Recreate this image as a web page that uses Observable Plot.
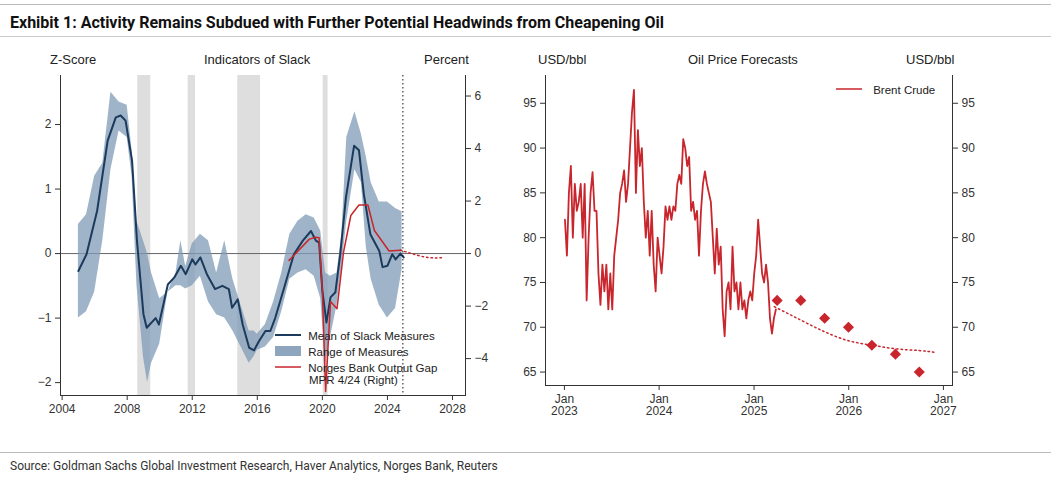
<!DOCTYPE html>
<html><head><meta charset="utf-8">
<script src="https://cdn.jsdelivr.net/npm/d3@7"></script>
<script src="https://cdn.jsdelivr.net/npm/@observablehq/plot@0.6"></script>
<style>
body{margin:0;background:#fff;font-family:"Liberation Sans",Arial,sans-serif;color:#222;width:1051px;height:478px;position:relative;overflow:hidden}
.abs{position:absolute}
.sub{font-size:13px;color:#222}
.leg{font-size:11.5px;color:#222;line-height:16px}
</style></head><body>
<div class="abs" style="left:0;top:4px;width:1051px;border-top:1px solid #bbb"></div>
<div class="abs" style="left:10px;top:13px;font-family:'Liberation Sans Narrow','Roboto',sans-serif;font-weight:bold;font-size:16px;color:#111">Exhibit 1: Activity Remains Subdued with Further Potential Headwinds from Cheapening Oil</div>
<div class="abs" style="left:0;top:36px;width:1051px;border-top:1px solid #ccc"></div>
<div class="abs sub" style="left:50px;top:52px">Z-Score</div>
<div class="abs sub" style="left:204px;top:52px">Indicators of Slack</div>
<div class="abs sub" style="left:424px;top:52px">Percent</div>
<div class="abs sub" style="left:538px;top:52px">USD/bbl</div>
<div class="abs sub" style="left:688px;top:52px">Oil Price Forecasts</div>
<div class="abs sub" style="left:906px;top:52px">USD/bbl</div>
<div id="c1" class="abs" style="left:0;top:45px"></div>
<div id="c2" class="abs" style="left:500px;top:45px"></div>
<div class="abs leg" style="left:275px;top:328px">
<div><svg width="30" height="10"><line x1="0" y1="5" x2="26" y2="5" stroke="#1b3a5c" stroke-width="2"/></svg> Mean of Slack Measures</div>
<div><svg width="30" height="10"><rect x="0" y="0" width="26" height="10" fill="#8ea6bd"/></svg> Range of Measures</div>
<div><svg width="30" height="10"><line x1="0" y1="5" x2="26" y2="5" stroke="#c8262c" stroke-width="1.5"/></svg> Norges Bank Output Gap</div>
<div style="margin-left:34px;margin-top:-4px">MPR 4/24 (Right)</div>
</div>
<div class="abs leg" style="left:836px;top:82px"><svg width="34" height="10"><line x1="0" y1="5" x2="26" y2="5" stroke="#c8262c" stroke-width="1.5"/></svg> Brent Crude</div>
<div class="abs" style="left:0;top:452px;width:1051px;border-top:1px solid #bbb"></div>
<div class="abs" style="left:10px;top:459px;font-family:'Liberation Sans Narrow','Roboto',sans-serif;font-size:12px;color:#333">Source: Goldman Sachs Global Investment Research, Haver Analytics, Norges Bank, Reuters</div>
<script>
// ---- Left chart data ----
const meanYear=[2005.0,2005.5,2006.15,2006.8,2007.3,2007.6,2007.9,2008.3,2008.6,2009.0,2009.2,2009.75,2009.95,2010.5,2010.9,2011.3,2011.6,2012.0,2012.2,2012.5,2012.9,2013.4,2013.85,2014.25,2014.45,2014.8,2015.1,2015.5,2015.8,2016.1,2016.5,2016.8,2017.1,2017.65,2018.25,2018.8,2019.3,2019.6,2019.8,2020.0,2020.25,2020.5,2020.8,2021.1,2021.45,2021.95,2022.25,2022.55,2022.95,2023.5,2023.7,2024.0,2024.3,2024.5,2024.8,2025.0];
const meanVal=[-0.27,-0.01,0.66,1.75,2.11,2.14,2.06,1.44,0.2,-0.94,-1.15,-1.0,-1.1,-0.48,-0.37,-0.19,-0.32,-0.09,-0.17,-0.06,-0.32,-0.55,-0.5,-0.55,-0.84,-0.71,-1.1,-1.46,-1.5,-1.36,-1.2,-1.2,-1.0,-0.53,-0.01,0.2,0.35,0.2,0.17,-0.58,-1.07,-0.68,-0.6,-0.01,0.87,1.67,1.6,0.92,0.3,0.04,-0.21,-0.19,-0.01,-0.09,0,-0.06];
const bandYear=[2005,2005.5,2006,2006.5,2007,2007.5,2008,2008.3,2008.6,2009,2009.25,2009.5,2010,2010.5,2011,2011.3,2011.6,2012,2012.5,2013,2013.5,2014,2014.5,2015,2015.5,2015.8,2016,2016.5,2017,2017.5,2018,2018.5,2019,2019.5,2019.9,2020.2,2020.5,2020.9,2021.2,2021.5,2022,2022.4,2022.7,2023,2023.5,2024,2024.5,2024.9];
const bandHi=[0.45,0.6,1.2,1.4,2.5,2.35,2.3,1.6,0.5,0.2,0.0,-0.3,-0.7,-0.6,-0.3,0.2,-0.2,0.15,0.3,0.2,-0.3,0.2,-0.4,-0.8,-1.2,-1.2,-1.25,-1.1,-0.75,-0.3,0.3,0.5,0.6,0.55,0.35,-0.3,-0.35,-0.3,0.3,1.8,2.2,1.85,1.5,1.1,0.8,0.8,0.7,0.65];
const bandLo=[-1.0,-0.9,-0.6,0.2,1.3,1.9,1.8,1.2,-0.5,-1.6,-2.0,-1.7,-1.4,-0.6,-0.5,-0.5,-0.55,-0.5,-0.35,-0.75,-0.95,-1.0,-1.2,-1.45,-1.7,-1.6,-1.5,-1.45,-1.3,-0.9,-0.4,-0.3,-0.25,-0.35,-0.7,-1.7,-1.3,-0.8,-0.2,0.5,1.3,1.1,0.1,-0.4,-0.8,-1.0,-0.85,-0.25];
const gapYear=[2017.95,2019.2,2019.6,2019.8,2020.0,2020.2,2020.5,2020.9,2021.3,2021.75,2022.25,2022.8,2023.2,2024.1,2024.8];
const gapVal=[-0.26,0.55,0.62,0.6,-1.45,-5.25,-1.83,-2.1,0.05,1.45,1.85,1.85,0.88,0.1,0.13];
const gapFcYear=[2024.8,2025.5,2026.5,2027.5];
const gapFcVal=[0.13,0.0,-0.15,-0.15];
const recStart=[2008.65,2011.75,2014.8,2020.05];
const recEnd=[2009.45,2012.2,2016.2,2020.35];
const xTicks1=[2004,2008,2012,2016,2020,2024,2028];
const zTicks=[-2,-1,0,1,2];
const pctTicks=[-4,-2,0,2,4,6];
const forecastStart=[2024.95];

// ---- Right chart data ----
const brent=[82,78,85,88, 80,86,83,84, 86,80,86,73, 80,85,87.3,83, 83,76,72.5,77, 74,77,72,76, 72,78,80,82, 85,86,87.5,84, 86,90,94,96.5, 85,92,88,90, 84,80,83,78, 83,77,74,80,
 78,76,79,83.5, 82,83.5,82,83.5, 83,86,87,86, 91,90,88,89, 83,84,82,83, 78,83,86,87.4, 86,85,84,80, 76,81,77,79, 72,69,74,75, 72,79,74,75, 72,75,72,73, 71,73,74,73,
 76,78,82,79, 76,75,77,75, 71,69.3,71,72];
const fcDates=["2025-03-20","2025-06-30","2025-09-30","2025-12-31","2026-03-31","2026-06-30","2026-09-30","2026-11-30"];
const fcCurve=[72.3,70.8,69.5,68.5,68.0,67.6,67.4,67.2];
const qDates=["2025-03-31","2025-06-30","2025-09-30","2025-12-31","2026-03-31","2026-06-30","2026-09-30"];
const qForecast=[73,73,71,70,68,67,65];
const xTicks2=["2023-01-01","2024-01-01","2025-01-01","2026-01-01","2027-01-01"];
const yTicks2=[65,70,75,80,85,90,95];

const K=2.457;
const red="#c8262c", navy="#1b3a5c", tc="#333";
const fmt=d=>String(d).replace("-","−");
const mean=meanYear.map((x,i)=>({x,y:meanVal[i]}));
const band=bandYear.map((x,i)=>({x,lo:bandLo[i],hi:bandHi[i]}));
const gap=gapYear.map((x,i)=>({x,y:gapVal[i]/K}));
const gapFc=gapFcYear.map((x,i)=>({x,y:gapFcVal[i]/K}));
const rec=recStart.map((s,i)=>({s,e:recEnd[i]}));

const p1=Plot.plot({
  width:500,height:380,marginLeft:60,marginRight:35,marginTop:30,marginBottom:30,
  style:{fontFamily:"Liberation Sans, Arial",fontSize:"12px",color:tc},
  x:{domain:[2003.9,2028.8]},
  y:{domain:[-2.2,2.76]},
  marks:[
    Plot.rectX(rec,{x1:"s",x2:"e",y1:-2.2,y2:2.76,fill:"#dedede"}),
    Plot.ruleY([0],{stroke:"#666",strokeWidth:1}),
    Plot.areaY(band,{x:"x",y1:"lo",y2:"hi",fill:"#7f9bb5",fillOpacity:0.75}),
    Plot.line(mean,{x:"x",y:"y",stroke:navy,strokeWidth:2}),
    Plot.line(gap,{x:"x",y:"y",stroke:red,strokeWidth:1.5}),
    Plot.line(gapFc,{x:"x",y:"y",stroke:red,strokeWidth:1.5,strokeDasharray:"1.5,3",curve:"natural"}),
    Plot.ruleX(forecastStart,{stroke:"#111",strokeDasharray:"1.5,2.5"}),
    Plot.frame({anchor:"left",stroke:"#333"}),
    Plot.frame({anchor:"right",stroke:"#333"}),
    Plot.frame({anchor:"bottom",stroke:"#333"}),
    Plot.axisX(xTicks1,{tickFormat:d=>String(d),tickSize:5,label:null,fontSize:12}),
    Plot.axisY(zTicks,{anchor:"left",tickFormat:fmt,tickSize:5,label:null,fontSize:12}),
    Plot.axisY(pctTicks.map(p=>p/K),{anchor:"right",tickFormat:d=>fmt(Math.round(d*K)),tickSize:5,label:null,fontSize:12})
  ]
});
document.getElementById("c1").appendChild(p1);

const t0=new Date(2023,0,3);
const brentData=brent.map((v,i)=>({d:new Date(t0.getTime()+i*7.6*864e5),v}));
const fcC=fcDates.map((d,i)=>({d:new Date(d),v:fcCurve[i]}));
const qF=qDates.map((d,i)=>({d:new Date(d),v:qForecast[i]}));
const p2=Plot.plot({
  width:500,height:380,marginLeft:45,marginRight:48,marginTop:30,marginBottom:40,
  style:{fontFamily:"Liberation Sans, Arial",fontSize:"12px",color:tc},
  x:{type:"utc",domain:[new Date("2022-10-20"),new Date("2027-02-05")]},
  y:{domain:[63.5,98.1]},
  marks:[
    Plot.line(brentData,{x:"d",y:"v",stroke:red,strokeWidth:1.8}),
    Plot.line(fcC,{x:"d",y:"v",stroke:red,strokeWidth:1.5,strokeDasharray:"1.5,3",curve:"natural"}),
    Plot.dot(qF,{x:"d",y:"v",symbol:"diamond2",r:5,fill:red,stroke:"none"}),
    Plot.frame({anchor:"left",stroke:"#333"}),
    Plot.frame({anchor:"right",stroke:"#333"}),
    Plot.frame({anchor:"bottom",stroke:"#333"}),
    Plot.axisX(xTicks2.map(d=>new Date(d)),{tickFormat:d=>"Jan\n"+d.getUTCFullYear(),tickSize:5,label:null,fontSize:12}),
    Plot.axisY(yTicks2,{anchor:"left",tickSize:5,label:null,fontSize:12}),
    Plot.axisY(yTicks2,{anchor:"right",tickSize:5,label:null,fontSize:12})
  ]
});
document.getElementById("c2").appendChild(p2);
</script>
</body></html>
